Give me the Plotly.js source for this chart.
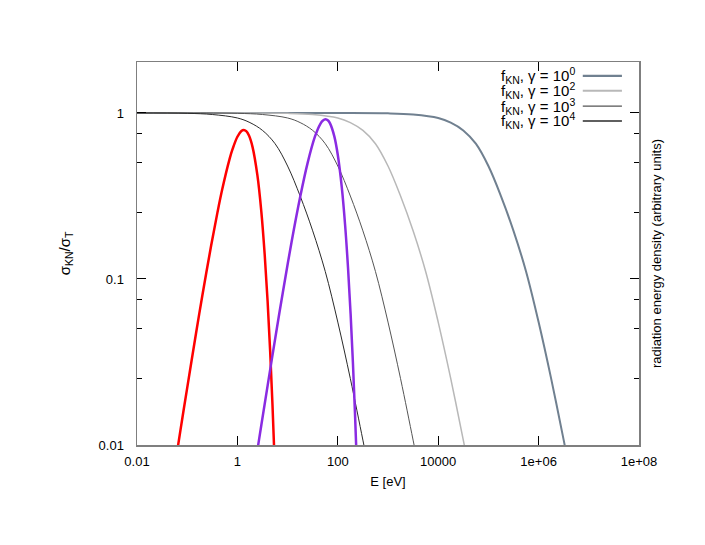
<!DOCTYPE html>
<html>
<head>
<meta charset="utf-8">
<script src="https://cdn.plot.ly/plotly-3.0.1.min.js"></script>
<style>
  html, body { margin: 0; padding: 0; background: #fff; }
  #plot { width: 705px; height: 545px; }
</style>
</head>
<body>
<div id="plot"></div>
<script>
// Klein-Nishina suppression factor
var eG0 = [0.01, 1, 100, 1000, 3162, 10000, 17780, 31620, 56230, 100000, 177800, 316200, 562300, 1000000, 1778000, 3162000, 4000000];
var fG0 = [1, 1, 0.9999, 0.995, 0.979, 0.933, 0.875, 0.785, 0.653, 0.479, 0.316, 0.195, 0.111, 0.055, 0.0251, 0.0107, 0.0075];

var eG2 = [0.01, 1, 10, 31.62, 100, 177.8, 316.2, 562.3, 1000, 1778, 3162, 5623, 10000, 17780, 31620, 40000];
var fG2 = [1, 0.9999, 0.995, 0.979, 0.933, 0.875, 0.785, 0.653, 0.479, 0.316, 0.195, 0.111, 0.055, 0.0251, 0.0107, 0.0075];

var eG3 = [0.01, 0.1, 1, 3.162, 10, 17.78, 31.62, 56.23, 100, 177.8, 316.2, 562.3, 1000, 1778, 3162, 4000];
var fG3 = [0.9999, 0.9999, 0.995, 0.979, 0.933, 0.875, 0.785, 0.653, 0.479, 0.316, 0.195, 0.111, 0.055, 0.0251, 0.0107, 0.0075];

var eG4 = [0.01, 0.1, 0.3162, 1, 1.778, 3.162, 5.623, 10, 17.78, 31.62, 56.23, 100, 177.8, 316.2, 400];
var fG4 = [0.9999, 0.995, 0.979, 0.933, 0.875, 0.785, 0.653, 0.479, 0.316, 0.195, 0.111, 0.055, 0.0251, 0.0107, 0.0075];

// radiation spectra (arbitrary units)
var eRed = [0.05, 0.065, 0.08, 0.1, 0.15, 0.2, 0.3, 0.4, 0.5, 0.7, 0.8, 1.0, 1.2, 1.34, 1.5, 1.7, 2.0, 2.5, 3.0, 3.5, 4.0, 4.5, 5.0, 5.5];
var uRed = [0.0058, 0.0097, 0.0145, 0.0221, 0.0471, 0.0793, 0.159, 0.251, 0.348, 0.529, 0.605, 0.719, 0.779, 0.79, 0.777, 0.731, 0.625, 0.422, 0.254, 0.140, 0.0732, 0.0364, 0.0174, 0.0081];

var ePurple = [2, 2.5, 3, 4, 6, 8, 12, 18, 25, 35, 45, 50, 57, 64, 70, 85, 100, 120, 140, 160, 180, 200, 220, 240];
var uPurple = [0.0060, 0.0093, 0.0132, 0.0228, 0.0488, 0.0824, 0.167, 0.317, 0.499, 0.720, 0.861, 0.898, 0.916, 0.900, 0.865, 0.725, 0.558, 0.357, 0.210, 0.116, 0.0616, 0.0314, 0.0155, 0.0075];

var legendLabels = [
  "f<sub>KN</sub>, γ = 10<sup>0</sup>",
  "f<sub>KN</sub>, γ = 10<sup>2</sup>",
  "f<sub>KN</sub>, γ = 10<sup>3</sup>",
  "f<sub>KN</sub>, γ = 10<sup>4</sup>"
];
var grayColors = ["#708090", "#b8b8b8", "#555555", "#2a2a2a"];
var grayWidths = [2, 1.5, 1, 1];
var xTickVals = [0.01, 1, 100, 10000, 1000000, 100000000];
var xTickText = ["0.01", "1", "100", "10000", "1e+06", "1e+08"];
var yTickVals = [0.01, 0.1, 1];
var yTickText = ["0.01", "0.1", "1"];
var yMinorVals = [0.025, 0.05, 0.075, 0.25, 0.5, 0.75];

var font = {family: "Liberation Sans, Arial, sans-serif", size: 13, color: "#000"};
var bigFont = {family: "Liberation Sans, Arial, sans-serif", size: 15, color: "#000"};

var grayX = [eG0, eG2, eG3, eG4];
var grayY = [fG0, fG2, fG3, fG4];
var data = [];
for (var i = 0; i < grayX.length; i++) {
  data.push({
    x: grayX[i], y: grayY[i], type: "scatter", mode: "lines",
    line: {color: grayColors[i], width: grayWidths[i], shape: "spline", smoothing: 1},
    showlegend: false, hoverinfo: "skip"
  });
}
data.push({
  x: eRed, y: uRed, type: "scatter", mode: "lines", yaxis: "y2",
  line: {color: "#ff0000", width: 2.5, shape: "spline", smoothing: 1},
  showlegend: false
});
data.push({
  x: ePurple, y: uPurple, type: "scatter", mode: "lines", yaxis: "y2",
  line: {color: "#8a2be2", width: 2.5, shape: "spline", smoothing: 1},
  showlegend: false
});

// gnuplot style key: right aligned text, sample line on the right
var keyRows = [0.964, 0.925, 0.885, 0.846];
var annotations = [];
var shapes = [];
for (var k = 0; k < legendLabels.length; k++) {
  annotations.push({
    xref: "paper", yref: "paper", x: 0.8765, y: keyRows[k],
    xanchor: "right", yanchor: "middle", showarrow: false,
    text: legendLabels[k], font: bigFont
  });
  shapes.push({
    type: "line", xref: "paper", yref: "paper",
    x0: 0.888, x1: 0.966, y0: keyRows[k], y1: keyRows[k],
    line: {color: grayColors[k], width: grayWidths[k] + 0.3}
  });
}

var layout = {
  width: 705, height: 545,
  margin: {l: 137, r: 66, t: 62, b: 100},
  paper_bgcolor: "#fff", plot_bgcolor: "#fff",
  font: font,
  showlegend: false,
  xaxis: {
    type: "log", range: [-2, 8],
    tickmode: "array", tickvals: xTickVals, ticktext: xTickText,
    ticks: "inside", ticklen: 9, tickcolor: "#000", tickwidth: 1,
    showline: true, linecolor: "#7f7f7f", linewidth: 1.5, mirror: "ticks",
    showgrid: false, zeroline: false,
    ticklabelstandoff: 4,
    title: {text: "E [eV]", font: font, standoff: 9}
  },
  yaxis: {
    type: "log", range: [-2, 0.307],
    tickmode: "array", tickvals: yTickVals, ticktext: yTickText,
    ticks: "inside", ticklen: 9, tickcolor: "#000", tickwidth: 1,
    minor: {tickvals: yMinorVals, ticks: "inside", ticklen: 5, tickcolor: "#000", showgrid: false},
    showline: true, linecolor: "#7f7f7f", linewidth: 1.5, mirror: "ticks",
    showgrid: false, zeroline: false,
    ticklabelstandoff: 9,
    title: {text: "σ<sub>KN</sub>/σ<sub>T</sub>", font: bigFont, standoff: 24}
  },
  yaxis2: {
    type: "log", range: [-2, 0.307], overlaying: "y", side: "right",
    showticklabels: false, ticks: "", showline: false, showgrid: false, zeroline: false,
    title: {text: "radiation energy density (arbitrary units)", font: font, standoff: 12}
  },
  annotations: annotations,
  shapes: shapes
};

Plotly.newPlot("plot", data, layout, {displayModeBar: false, staticPlot: true});
</script>
</body>
</html>
